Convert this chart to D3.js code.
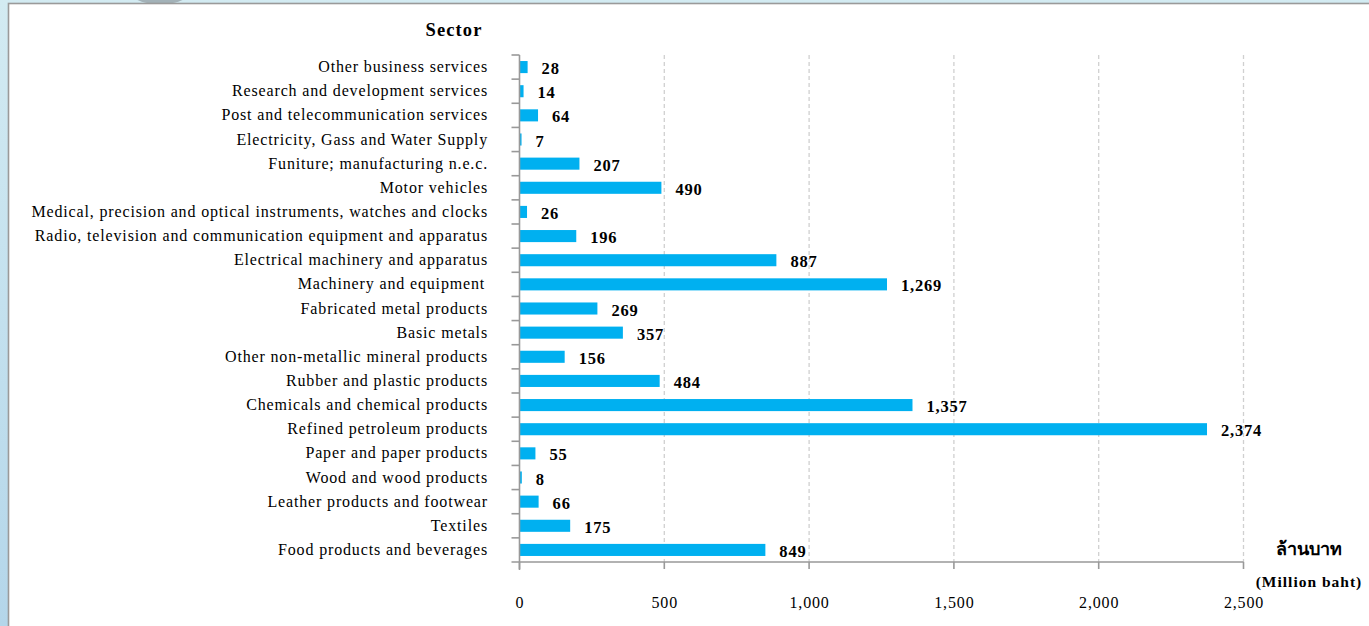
<!DOCTYPE html>
<html><head><meta charset="utf-8">
<script src="https://cdn.jsdelivr.net/npm/d3@7"></script>
<style>
html,body{margin:0;padding:0;background:#fff;}
svg{display:block;}
</style></head>
<body>
<svg id="chart" width="1369" height="626"></svg>
<script>
const categories = [
  "Other business services",
  "Research and development services",
  "Post and telecommunication services",
  "Electricity, Gass and Water Supply",
  "Funiture; manufacturing n.e.c.",
  "Motor vehicles",
  "Medical, precision and optical instruments, watches and clocks",
  "Radio, television and communication equipment and apparatus",
  "Electrical machinery and apparatus",
  "Machinery and equipment ",
  "Fabricated metal products",
  "Basic metals",
  "Other non-metallic mineral products",
  "Rubber and plastic products",
  "Chemicals and chemical products",
  "Refined petroleum products",
  "Paper and paper products",
  "Wood and wood products",
  "Leather products and footwear",
  "Textiles",
  "Food products and beverages"
];
const values = [28, 14, 64, 7, 207, 490, 26, 196, 887, 1269, 269, 357, 156, 484, 1357, 2374, 55, 8, 66, 175, 849];
const xTicks = [0, 500, 1000, 1500, 2000, 2500];
const yTitle = "Sector";
const unitThai = "ล้านบาท";
const unitEn = "(Million baht)";

const svg = d3.select("#chart");
const W = 1369, H = 626;
const serif = "'Liberation Serif','Times New Roman',serif";

// slide background
const defs = svg.append("defs");
const g1 = defs.append("linearGradient").attr("id","bg").attr("x1",0).attr("y1",0).attr("x2",0).attr("y2",1);
g1.append("stop").attr("offset","0%").attr("stop-color","#d3ebf2");
g1.append("stop").attr("offset","100%").attr("stop-color","#b4d6ea");
svg.append("rect").attr("width",W).attr("height",H).attr("fill","url(#bg)");
svg.append("ellipse").attr("cx",160).attr("cy",-4).attr("rx",26).attr("ry",8).attr("fill","#8e9aa0").attr("opacity",0.7);
svg.append("rect").attr("x",8.5).attr("y",3.5).attr("width",W).attr("height",H)
  .attr("fill","#fff").attr("stroke","#9a9a9a").attr("stroke-width",1.6);

const x0 = 519.5, xEnd = 1243.5;
const yTop = 55, yBot = 562;
const x = d3.scaleLinear().domain([0, 2500]).range([x0, xEnd]);
const y = d3.scaleBand().domain(categories).range([yTop, yBot]).paddingInner(0.5).paddingOuter(0.25);

// gridlines
svg.append("g").selectAll("line").data(xTicks.filter(d => d > 0)).join("line")
  .attr("x1", d => x(d)).attr("x2", d => x(d)).attr("y1", yTop).attr("y2", yBot)
  .attr("stroke", "#d0d0d0").attr("stroke-width", 1.3).attr("stroke-dasharray", "4,3");

// bars
svg.append("g").selectAll("rect").data(values).join("rect")
  .attr("x", x(0))
  .attr("y", (d, i) => y(categories[i]))
  .attr("width", d => x(d) - x(0))
  .attr("height", y.bandwidth())
  .attr("fill", "#00b0f0");

// value labels
svg.append("g").selectAll("text").data(values).join("text")
  .attr("x", d => x(d) + 14)
  .attr("y", (d, i) => y(categories[i]) + y.bandwidth() / 2 + 7)
  .attr("font-family", serif).attr("font-weight", "bold").attr("font-size", 16.5)
  .attr("letter-spacing", 0.8)
  .attr("fill", "#000")
  .text(d => d3.format(",")(d));

// y axis
const step = (yBot - yTop) / categories.length;
const yAxis = svg.append("g");
yAxis.append("line").attr("x1", x0).attr("x2", x0).attr("y1", yTop).attr("y2", yBot + 8)
  .attr("stroke", "#999").attr("stroke-width", 1.6);
yAxis.selectAll("line.t").data(d3.range(categories.length)).join("line").attr("class","t")
  .attr("x1", x0 - 8).attr("x2", x0)
  .attr("y1", i => yTop + i * step).attr("y2", i => yTop + i * step)
  .attr("stroke", "#999").attr("stroke-width", 1.6);
yAxis.selectAll("text").data(categories).join("text")
  .attr("x", d => d.endsWith(" ") ? 490 : 488).attr("y", d => y(d) + y.bandwidth() / 2 + 5)
  .attr("text-anchor", "end").attr("font-family", serif).attr("font-size", 16)
  .attr("letter-spacing", 0.85).attr("xml:space", "preserve")
  .attr("fill", "#000").text(d => d);

// x axis
const xAxis = svg.append("g");
xAxis.append("line").attr("x1", x0 - 8).attr("x2", xEnd).attr("y1", yBot).attr("y2", yBot)
  .attr("stroke", "#999").attr("stroke-width", 1.6);
xAxis.selectAll("line.t").data(xTicks).join("line").attr("class","t")
  .attr("x1", d => x(d)).attr("x2", d => x(d)).attr("y1", yBot).attr("y2", yBot + 7)
  .attr("stroke", "#999").attr("stroke-width", 1.6);
xAxis.selectAll("text").data(xTicks).join("text")
  .attr("x", d => x(d) + 0.5).attr("y", 608)
  .attr("text-anchor", "middle").attr("font-family", serif).attr("font-size", 16)
  .attr("letter-spacing", 0.85)
  .attr("fill", "#000").text(d => d3.format(",")(d));

// titles
svg.append("text").attr("x", 454).attr("y", 36).attr("text-anchor", "middle")
  .attr("font-family", serif).attr("font-weight", "bold").attr("font-size", 18.5)
  .attr("letter-spacing", 1.1).text(yTitle);
svg.append("text").attr("x", 1309).attr("y", 555).attr("text-anchor", "middle")
  .attr("font-family", serif).attr("font-weight", "bold").attr("font-size", 18).text(unitThai);
svg.append("text").attr("x", 1309).attr("y", 587).attr("text-anchor", "middle")
  .attr("font-family", serif).attr("font-weight", "bold").attr("font-size", 15.5)
  .attr("letter-spacing", 1.0).text(unitEn);
</script>
</body></html>
